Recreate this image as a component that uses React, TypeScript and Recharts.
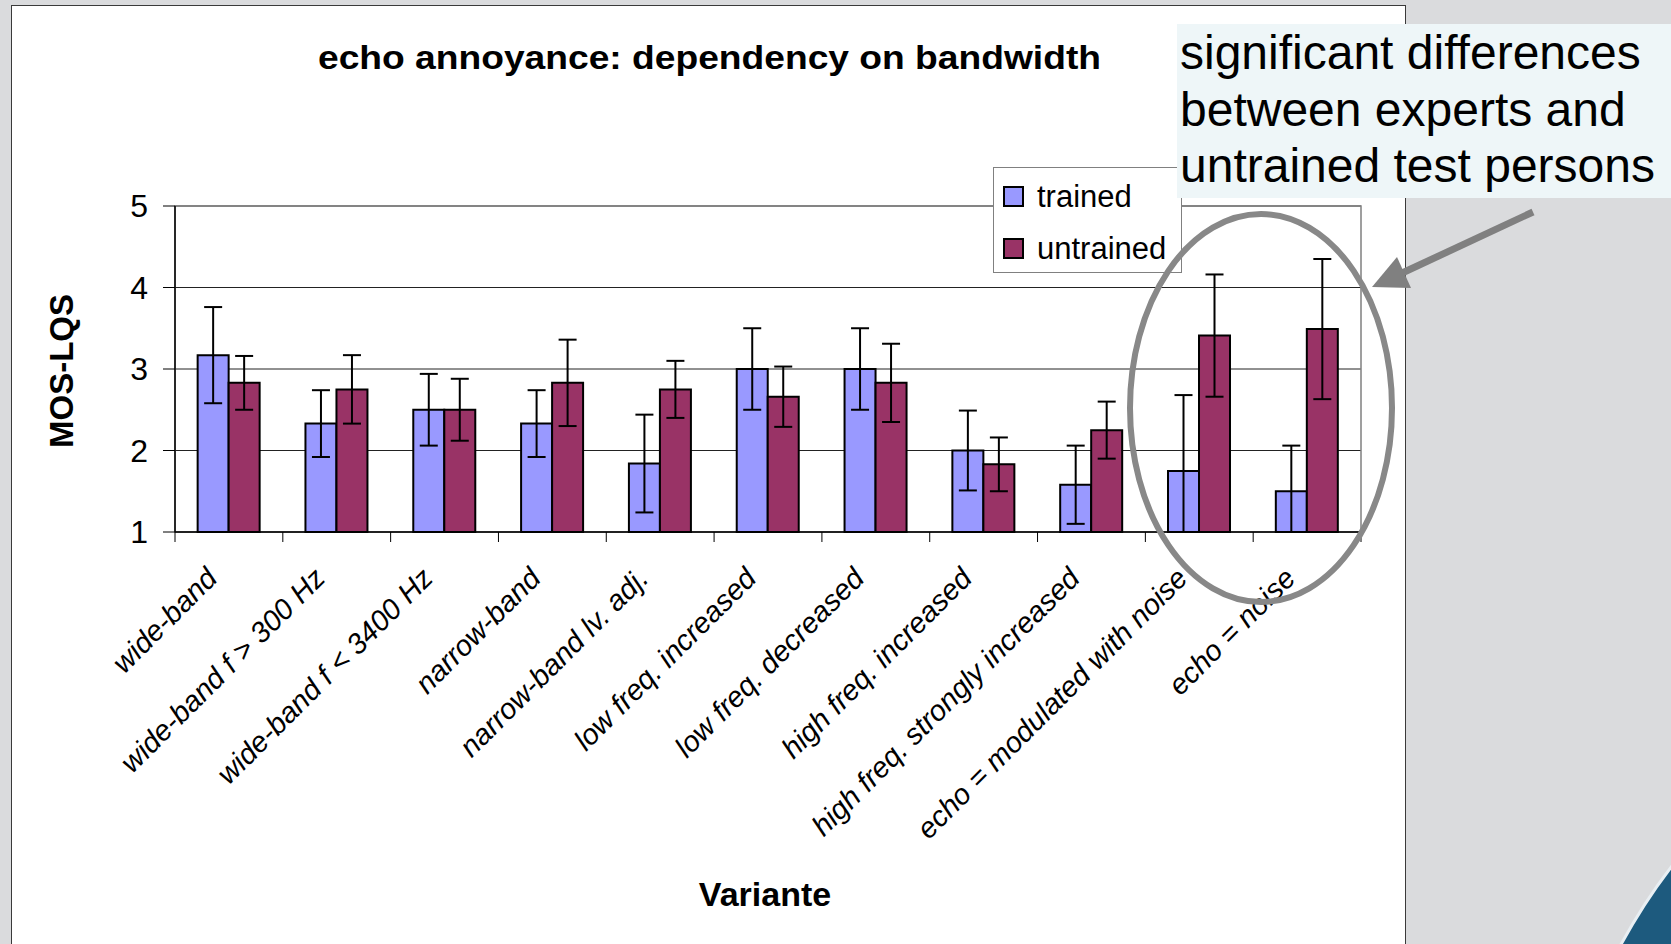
import {
  Bar,
  BarChart,
  CartesianGrid,
  ErrorBar,
  Legend,
  ReferenceArea,
  XAxis,
  YAxis,
} from 'recharts'

// MOS-LQS per echo variant, mean and half-width of the confidence interval
const variants = [
  'wide-band',
  'wide-band f > 300 Hz',
  'wide-band f < 3400 Hz',
  'narrow-band',
  'narrow-band lv. adj.',
  'low freq. increased',
  'low freq. decreased',
  'high freq. increased',
  'high freq. strongly increased',
  'echo = modulated with noise',
  'echo = noise',
]
const trained = [3.17, 2.33, 2.5, 2.33, 1.84, 3.0, 3.0, 2.0, 1.58, 1.75, 1.5]
const trainedCi = [0.59, 0.41, 0.44, 0.41, 0.6, 0.5, 0.5, 0.49, 0.48, 0.93, 0.56]
const untrained = [2.83, 2.75, 2.5, 2.83, 2.75, 2.66, 2.83, 1.83, 2.25, 3.41, 3.49]
const untrainedCi = [0.33, 0.42, 0.38, 0.53, 0.35, 0.37, 0.48, 0.33, 0.35, 0.75, 0.86]
const yTicks = [1, 2, 3, 4, 5]

const FONT = '"Liberation Sans", Arial, sans-serif'
const yMin = yTicks[0]

// error bars stop at the bottom of the value axis
const data = variants.map((name, i) => ({
  name,
  trained: trained[i],
  untrained: untrained[i],
  trainedErr: [Math.min(trainedCi[i], trained[i] - yMin), trainedCi[i]],
  untrainedErr: [Math.min(untrainedCi[i], untrained[i] - yMin), untrainedCi[i]],
}))

function VariantTick(props: any) {
  const { x, y, payload, index } = props
  const half = payload.offset || 54
  const axisY = y - 10
  const tx = x - 10
  const ty = axisY + 48
  const last = index === variants.length - 1
  return (
    <g>
      <line x1={x - half} x2={x - half} y1={axisY} y2={axisY + 10} stroke="#000" />
      {last && <line x1={x + half} x2={x + half} y1={axisY} y2={axisY + 10} stroke="#000" />}
      <text
        x={tx}
        y={ty}
        transform={`rotate(-45 ${tx} ${ty})`}
        textAnchor="end"
        fontSize={29}
        fontStyle="italic"
        fill="#000"
      >
        {payload.value}
      </text>
    </g>
  )
}

function SeriesLegend({ payload }: any) {
  return (
    <div
      style={{
        width: '100%',
        height: '100%',
        boxSizing: 'border-box',
        border: '1px solid #808080',
        background: '#fff',
        paddingTop: 2,
      }}
    >
      {(payload || []).map((entry: any) => (
        <div key={entry.value} style={{ display: 'flex', alignItems: 'center', height: 52 }}>
          <span
            style={{
              display: 'inline-block',
              width: 21,
              height: 21,
              boxSizing: 'border-box',
              background: entry.color,
              border: '2px solid #000',
              marginLeft: 9,
              marginRight: 13,
            }}
          />
          <span style={{ fontSize: 31, lineHeight: '31px', color: '#000' }}>{entry.value}</span>
        </div>
      ))}
    </div>
  )
}

export default function App() {
  return (
    <div
      style={{
        position: 'absolute',
        left: 0,
        top: 0,
        width: 1671,
        height: 944,
        overflow: 'hidden',
        background: '#dadbdd',
        fontFamily: FONT,
      }}
    >
      <div
        style={{
          position: 'absolute',
          left: 11,
          top: 5,
          width: 1393,
          height: 980,
          background: '#fff',
          border: '1px solid #3a3a3a',
        }}
      />
      <div style={{ position: 'absolute', left: 0, top: 0 }}>
        <BarChart
          width={1671}
          height={944}
          data={data}
          margin={{ top: 206, right: 310, left: 115, bottom: 112 }}
          barCategoryGap="21%"
          barGap={0}
        >
          <CartesianGrid vertical={false} stroke="#222" />
          <ReferenceArea y1={1} y2={5} fill="none" stroke="#808080" strokeWidth={1.5} />
          <XAxis
            dataKey="name"
            height={300}
            interval={0}
            tickLine={false}
            tickSize={10}
            tickMargin={0}
            axisLine={{ stroke: '#000', strokeWidth: 1.5 }}
            tick={<VariantTick />}
          />
          <YAxis
            domain={[1, 5]}
            ticks={yTicks}
            width={60}
            tickSize={12}
            tickMargin={15}
            axisLine={{ stroke: '#000', strokeWidth: 1.5 }}
            tickLine={{ stroke: '#000' }}
            tick={{ fontSize: 32, fill: '#000' }}
          />
          <Legend
            layout="vertical"
            align="center"
            verticalAlign="middle"
            content={<SeriesLegend />}
            wrapperStyle={{ left: 993, top: 167, width: 189, height: 106 }}
          />
          <Bar
            dataKey="trained"
            name="trained"
            fill="#9999ff"
            stroke="#000"
            strokeWidth={2}
            isAnimationActive={false}
          >
            <ErrorBar dataKey="trainedErr" direction="y" width={9} stroke="#000" strokeWidth={2} />
          </Bar>
          <Bar
            dataKey="untrained"
            name="untrained"
            fill="#993366"
            stroke="#000"
            strokeWidth={2}
            isAnimationActive={false}
          >
            <ErrorBar dataKey="untrainedErr" direction="y" width={9} stroke="#000" strokeWidth={2} />
          </Bar>
        </BarChart>
      </div>
      <svg
        width={1671}
        height={944}
        style={{ position: 'absolute', left: 0, top: 0, pointerEvents: 'none' }}
      >
        <circle cx={2150} cy={1232} r={602} fill="#1d5a7e" stroke="#e9eff3" strokeWidth={3} />
        <text
          x={318}
          y={69}
          fontSize={33}
          fontWeight="bold"
          textLength={783}
          lengthAdjust="spacingAndGlyphs"
          fill="#000"
        >
          echo annoyance: dependency on bandwidth
        </text>
        <text
          transform="translate(61 371) rotate(-90)"
          textAnchor="middle"
          dominantBaseline="central"
          fontSize={33}
          fontWeight="bold"
          fill="#000"
        >
          MOS-LQS
        </text>
        <text x={765} y={906} textAnchor="middle" fontSize={34} fontWeight="bold" fill="#000">
          Variante
        </text>
        <rect x={1177} y={24} width={494} height={174} fill="#eef6f8" />
        <g fontSize={48} fill="#000">
          <text x={1180} y={69}>significant differences</text>
          <text x={1180} y={126}>between experts and</text>
          <text x={1180} y={182}>untrained test persons</text>
        </g>
        <ellipse cx={1261} cy={408} rx={131} ry={194} fill="none" stroke="#888" strokeWidth={6} />
        <line x1={1533} y1={212} x2={1400} y2={274} stroke="#808080" strokeWidth={7} />
        <polygon points="1372,287 1397,257 1411,288" fill="#808080" />
      </svg>
    </div>
  )
}
